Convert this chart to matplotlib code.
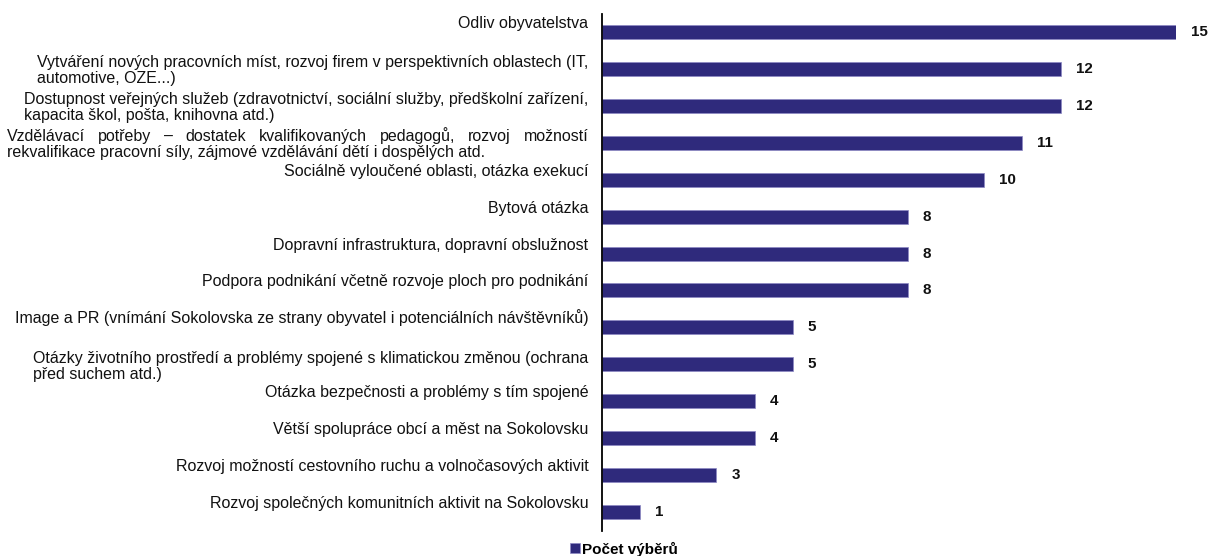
import matplotlib
matplotlib.use("Agg")
import matplotlib.pyplot as plt

plt.rcParams['font.family'] = ['Liberation Sans', 'DejaVu Sans']

categories = [
    "Odliv obyvatelstva",
    "Vytváření nových pracovních míst, rozvoj firem v perspektivních oblastech (IT,\nautomotive, OZE...)",
    "Dostupnost veřejných služeb (zdravotnictví, sociální služby, předškolní zařízení,\nkapacita škol, pošta, knihovna atd.)",
    "Vzdělávací potřeby – dostatek kvalifikovaných pedagogů, rozvoj možností\nrekvalifikace pracovní síly, zájmové vzdělávání dětí i dospělých atd.",
    "Sociálně vyloučené oblasti, otázka exekucí",
    "Bytová otázka",
    "Dopravní infrastruktura, dopravní obslužnost",
    "Podpora podnikání včetně rozvoje ploch pro podnikání",
    "Image a PR (vnímání Sokolovska ze strany obyvatel i potenciálních návštěvníků)",
    "Otázky životního prostředí a problémy spojené s klimatickou změnou (ochrana\npřed suchem atd.)",
    "Otázka bezpečnosti a problémy s tím spojené",
    "Větší spolupráce obcí a měst na Sokolovsku",
    "Rozvoj možností cestovního ruchu a volnočasových aktivit",
    "Rozvoj společných komunitních aktivit na Sokolovsku",
]
values = [15, 12, 12, 11, 10, 8, 8, 8, 5, 5, 4, 4, 3, 1]
series_name = "Počet výběrů"
justified_index = 3

BAR = '#2F2A7C'
TXT = '#111111'
W, H = 1208, 556
fig = plt.figure(figsize=(W / 100, H / 100), dpi=100)
ax_left = 601.5
ax_top = 13.5
ax_bottom = 530.5
unit = 38.27
ax = fig.add_axes([ax_left / W, 1 - ax_bottom / H, unit * 15 / W, (ax_bottom - ax_top) / H])

ypos = list(range(len(values)))
bars = ax.barh(ypos, values, height=0.38, color=BAR, edgecolor='#8C88C4',
               linewidth=0.5, label=series_name)
ax.set_xlim(0, 15)
ax.set_ylim(len(values) - 0.5, -0.5)
ax.set_xticks([])
ax.set_yticks([])
for s in ['top', 'right', 'bottom']:
    ax.spines[s].set_visible(False)
ax.spines['left'].set_linewidth(1.3)
ax.spines['left'].set_color('black')

FS = 11.5
VFS = 10.9
RIGHT = -13          # px offset of label right edge from the axis
SINGLE_BASE = 4.0    # baseline offset (px, upward) for one-line labels
MULTI_BASE = 1.5     # baseline offset of first line for two-line labels
LINE_GAP = 16.0      # px between lines

for i, v in enumerate(values):
    ax.annotate(str(v), xy=(v, i), xytext=(15, 0), textcoords='offset pixels',
                ha='left', va='center', fontsize=VFS, fontweight='bold', color=TXT)

fig.canvas.draw()
renderer = fig.canvas.get_renderer()


def width_of(t):
    return t.get_window_extent(renderer).width


for i, lab in enumerate(categories):
    lines = lab.split('\n')
    if len(lines) == 1:
        ax.annotate(lab, xy=(0, i), xytext=(RIGHT, SINGLE_BASE), textcoords='offset pixels',
                    ha='right', va='baseline', fontsize=FS, color=TXT)
        continue
    bases = [MULTI_BASE - k * LINE_GAP for k in range(len(lines))]
    line_texts = []
    for ln, b in zip(lines, bases):
        t = ax.annotate(ln, xy=(0, i), xytext=(0, b), textcoords='offset pixels',
                        ha='left', va='baseline', fontsize=FS, color=TXT)
        line_texts.append(t)
    if i == justified_index:
        left = -(ax_left - 7)
        # first line justified over the full block width
        line_texts[0].remove()
        words = lines[0].split(' ')
        wts = [ax.annotate(w, xy=(0, i), xytext=(0, bases[0]), textcoords='offset pixels',
                           ha='left', va='baseline', fontsize=FS, color=TXT) for w in words]
        ws = [width_of(t) for t in wts]
        gap = ((RIGHT - left) - sum(ws)) / (len(words) - 1)
        x = left
        for t, wd in zip(wts, ws):
            t.set_position((x, bases[0]))
            x += wd + gap
        for t, b in zip(line_texts[1:], bases[1:]):
            t.set_position((left, b))
    else:
        maxw = max(width_of(t) for t in line_texts)
        left = RIGHT - maxw
        for t, b in zip(line_texts, bases):
            t.set_position((left, b))

fig.legend(handles=[bars], labels=[series_name], loc='center', bbox_to_anchor=(624 / W, 1 - 549 / H),
           frameon=False, handlelength=0.6, handleheight=0.6, handletextpad=0.15,
           prop={'weight': 'bold', 'size': 11}, borderpad=0)

fig.savefig('out.png', dpi=100)
